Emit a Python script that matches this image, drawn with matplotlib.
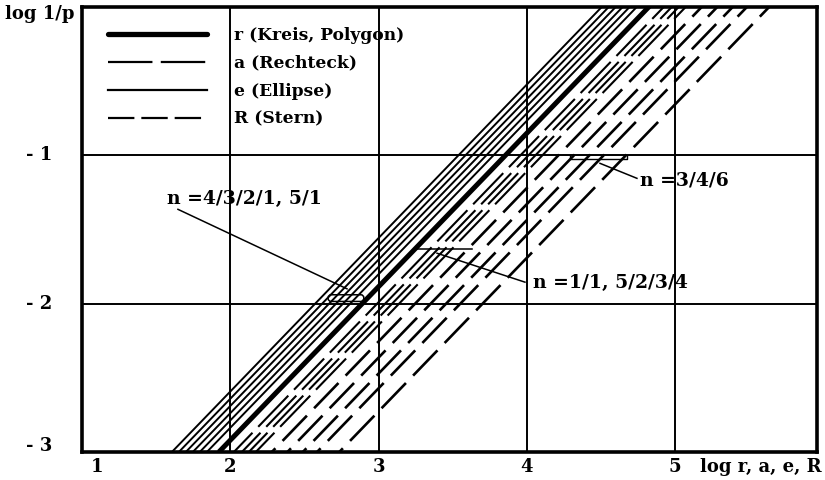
import numpy as np
import matplotlib
matplotlib.use("Agg")
import matplotlib.pyplot as plt
from matplotlib.lines import Line2D
from matplotlib.patches import FancyBboxPatch

plt.rcParams['font.family'] = ['DejaVu Serif']
plt.rcParams['font.weight'] = 'bold'
plt.rcParams['lines.scale_dashes'] = False

# x position (log r, a, e, R) of each line where log 1/p = -3
e_start = [1.606, 1.653, 1.700, 1.747, 1.794, 1.842]   # Ellipse, solid
r_start = [1.923]                                       # Kreis / Polygon, heavy
a_start = [2.024, 2.078, 2.125, 2.172]                  # Rechteck, dashed
R_start = [2.280, 2.385, 2.489, 2.585, 2.735]           # Stern, long dashes
slope = 1.035

xticks = [1, 2, 3, 4, 5]
yticks = [-1, -2, -3]
ytick_labels = ['- 1', '- 2', '- 3']

fig = plt.figure(figsize=(8.25, 4.8), dpi=100)
ax = fig.add_axes([82/825, 1-452/480, 735/825, 445/480])
ax.set_xlim(1, 1+735/148.3)
ax.set_ylim(-3, 0)

def line_x(x0, y):
    return x0 + (y + 3) / slope

def draw_line(x0, lw, period=None, gap=None, phase=0.0):
    if period is None:
        y = np.array([-3, 0.2])
        ax.plot(line_x(x0, y), y, color='k', lw=lw, solid_capstyle='butt')
        return
    cuts = np.arange(-3 + phase - period, 0.3, period)
    for c in cuts:
        y0 = max(c + gap/2, -3)
        y1 = min(c + period - gap/2, 0.2)
        if y1 <= y0:
            continue
        y = np.array([y0, y1])
        ax.plot(line_x(x0, y), y, color='k', lw=lw, solid_capstyle='butt')

for x0 in e_start:
    draw_line(x0, 1.4)
for x0 in r_start:
    draw_line(x0, 3.6)
for x0 in a_start:
    draw_line(x0, 1.5, period=0.25, gap=0.04, phase=0.15)
for x0 in R_start:
    draw_line(x0, 1.9, period=0.22, gap=0.05, phase=0.05)

# grid
for gx in [2, 3, 4, 5]:
    ax.axvline(gx, color='k', lw=1.4, zorder=3)
for gy in [-1, -2]:
    ax.axhline(gy, color='k', lw=1.4, zorder=3)

for s in ax.spines.values():
    s.set_linewidth(2.6)
    s.set_zorder(5)
ax.set_xticks([])
ax.set_yticks([])

fs = 13
for t in xticks:
    dx = 0.1 if t == 1 else 0.0
    ax.text(t + dx, -3.04, str(t), ha='center', va='top', fontsize=fs)
for t, lab in zip(yticks, ytick_labels):
    dy = 0.04 if t == -3 else 0.0
    ax.text(0.80, t + dy, lab, ha='right', va='center', fontsize=fs)
ax.text(0.48, -0.05, 'log 1/p', ha='left', va='center', fontsize=fs, clip_on=False)
ax.text(5.17, -3.04, 'log r, a, e, R', ha='left', va='top', fontsize=fs, clip_on=False)

# legend in the upper left cell
handles = [
    Line2D([], [], color='k', lw=3.8, solid_capstyle='round'),
    Line2D([], [], color='k', lw=1.6, dashes=(32, 6)),
    Line2D([], [], color='k', lw=1.6),
    Line2D([], [], color='k', lw=1.6, dashes=(19, 5)),
]
labels = ['r (Kreis, Polygon)', 'a (Rechteck)', 'e (Ellipse)', 'R (Stern)']
leg = ax.legend(handles, labels, loc='upper left', bbox_to_anchor=(0.015, 0.99),
                frameon=False, fontsize=12.3, handlelength=5.76, handletextpad=1.6,
                labelspacing=0.64)
leg.set_zorder(6)

# annotations
afs = 13.5
ax.text(1.573, -1.296, 'n =4/3/2/1, 5/1', ha='left', va='center', fontsize=afs, zorder=6)
ax.plot([1.647, 2.787], [-1.364, -1.90], color='k', lw=1.1, zorder=4)
ax.add_patch(FancyBboxPatch((2.66, -1.985), 0.24, 0.045,
                            boxstyle='round,pad=0,rounding_size=0.02',
                            fc='none', ec='k', lw=1.1, zorder=4))

ax.text(4.04, -1.862, 'n =1/1, 5/2/3/4', ha='left', va='center', fontsize=afs, zorder=6)
ax.plot([3.394, 3.987], [-1.66, -1.855], color='k', lw=1.1, zorder=4)
ax.plot([3.259, 3.63], [-1.633, -1.633], color='k', lw=1.1, zorder=4)

ax.text(4.763, -1.168, 'n =3/4/6', ha='left', va='center', fontsize=afs, zorder=6)
ax.plot([4.493, 4.742], [-1.054, -1.155], color='k', lw=1.1, zorder=4)
ax.plot([4.29, 4.29, 4.675, 4.675], [-1.005, -1.027, -1.027, -1.005], color='k', lw=1.0, zorder=4)

fig.savefig('out.png', dpi=100)
